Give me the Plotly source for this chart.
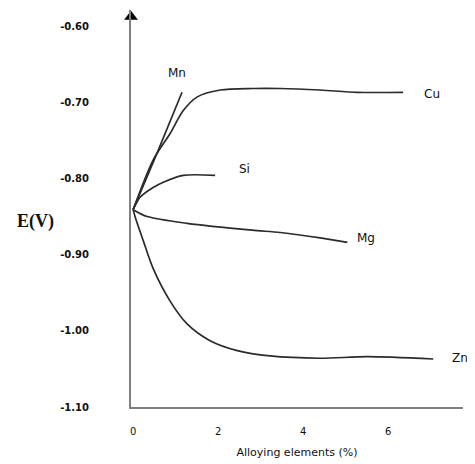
import plotly.graph_objects as go

# ---- data ----
mn_x = [0.0, 0.6, 1.15]
mn_y = [-0.841, -0.762, -0.687]

cu_x = [0.0, 0.47, 0.87, 1.18, 1.51, 2.05, 2.82, 3.46, 4.4, 5.27, 6.35]
cu_y = [-0.841, -0.776, -0.741, -0.711, -0.693, -0.684, -0.682, -0.682, -0.684, -0.687, -0.687]

si_x = [0.0, 0.16, 0.47, 0.71, 1.18, 1.93]
si_y = [-0.841, -0.825, -0.812, -0.805, -0.796, -0.796]

mg_x = [0.0, 0.33, 1.27, 2.8, 3.46, 4.4, 5.04]
mg_y = [-0.841, -0.85, -0.859, -0.868, -0.871, -0.878, -0.884]

zn_x = [0.0, 0.05, 0.24, 0.47, 0.87, 1.27, 1.81, 2.45, 3.22, 4.4, 5.51, 7.06]
zn_y = [-0.841, -0.851, -0.882, -0.918, -0.961, -0.991, -1.013, -1.026, -1.033, -1.036, -1.034, -1.037]

series_names = ["Mn", "Cu", "Si", "Mg", "Zn"]
label_x = [1.04, 7.04, 2.61, 5.48, 7.69]
label_y = [-0.662, -0.689, -0.787, -0.878, -1.036]

y_tickvals = [-0.60, -0.70, -0.80, -0.90, -1.00, -1.10]
y_ticktext = ["-0.60", "-0.70", "-0.80", "-0.90", "-1.00", "-1.10"]
x_tickvals = [0, 2, 4, 6]
x_ticktext = ["0", "2", "4", "6"]

x_title = "Alloying elements (%)"
y_title = "E(V)"

# ---- figure ----
fig = go.Figure()
line_style = dict(color="#2b2b2b", width=1.7, shape="spline", smoothing=0.8)
for name, xs, ys in [("Mn", mn_x, mn_y), ("Cu", cu_x, cu_y), ("Si", si_x, si_y),
                     ("Mg", mg_x, mg_y), ("Zn", zn_x, zn_y)]:
    fig.add_trace(go.Scatter(x=xs, y=ys, mode="lines", name=name,
                             line=line_style, showlegend=False, hoverinfo="skip"))

# arrow head at top of y axis
fig.add_trace(go.Scatter(x=[-0.05], y=[-0.588], mode="markers",
                         marker=dict(symbol="triangle-up", size=12, color="black"),
                         showlegend=False, hoverinfo="skip", cliponaxis=False))

for name, lx, ly in zip(series_names, label_x, label_y):
    fig.add_annotation(x=lx, y=ly, text=name, showarrow=False,
                       font=dict(family="DejaVu Sans", size=12, color="#111"),
                       xanchor="center", yanchor="middle")

fig.add_annotation(xref="paper", yref="paper", x=-0.289, y=0.466, text=y_title,
                   showarrow=False, xanchor="center", yanchor="middle",
                   font=dict(family="Liberation Serif", size=18, color="#111", weight="bold"))

fig.update_layout(
    width=475, height=464,
    margin=dict(l=123, r=20, t=2, b=65),
    paper_bgcolor="white", plot_bgcolor="white",
    xaxis=dict(range=[-0.05, 7.76], showgrid=False, zeroline=False,
               showline=True, linecolor="#808080", linewidth=2,
               tickvals=x_tickvals, ticktext=x_ticktext, ticks="",
               ticklabelstandoff=14,
               tickfont=dict(family="DejaVu Sans", size=10, color="#111"),
               title=dict(text=x_title, standoff=12,
                          font=dict(family="DejaVu Sans", size=11, color="#111"))),
    yaxis=dict(range=[-1.10, -0.579], showgrid=False, zeroline=False,
               showline=True, linecolor="#808080", linewidth=2,
               tickvals=y_tickvals, ticktext=y_ticktext, ticks="",
               ticklabelstandoff=38,
               tickfont=dict(family="DejaVu Sans", size=10, color="#111", weight="bold")),
)

fig.write_html("out.html")
